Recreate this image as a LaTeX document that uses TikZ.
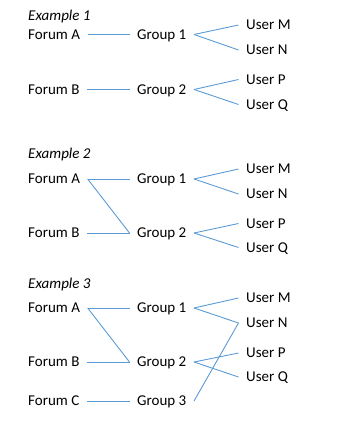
\documentclass[tikz,border=0pt]{standalone}
\usepackage{fontspec}
\setmainfont{Carlito}
\usepackage{tikz}
\definecolor{linkblue}{RGB}{91,155,213}

\begin{document}
\begin{tikzpicture}[
        x=1pt, y=-1pt,
        lbl/.style={anchor=west, inner xsep=7.5pt, inner ysep=0pt, text height=9.4pt, text depth=0pt, font=\fontsize{15}{18}\selectfont},
        hdr/.style={lbl, font=\fontsize{15}{18}\selectfont\itshape},
        link/.style={draw=linkblue, line width=0.9pt}
        ]
        \useasboundingbox (0,0) rectangle (341,435);
        % Example 1
        \node[hdr]  (ex_1)  at (20.5,15.5)  {Example 1};
        \node[lbl]  (fA_1)  at (20.5,34.5)  {Forum A};
        \node[lbl]  (fB_1)  at (20.5,89.5)  {Forum B};
        \node[lbl]  (g1_1)  at (129.5,34.5) {Group 1};
        \node[lbl]  (g2_1)  at (129.5,89.5) {Group 2};
        \node[lbl]  (uM_1)  at (238.5,25)   {User M};
        \node[lbl]  (uN_1)  at (238.5,50)   {User N};
        \node[lbl]  (uP_1)  at (238.5,79.5) {User P};
        \node[lbl]  (uQ_1)  at (238.5,104.5) {User Q};
        \path[link]
        (fA_1.east)   edge    (g1_1.west)
        (fB_1.east)   edge    (g2_1.west)
        (g1_1.east)   edge    (uM_1.west)
                      edge    (uN_1.west)
        (g2_1.east)   edge    (uP_1.west)
                      edge    (uQ_1.west);
        % Example 2
        \node[hdr]  (ex_2)  at (20.5,154)   {Example 2};
        \node[lbl]  (fA_2)  at (20.5,179)   {Forum A};
        \node[lbl]  (fB_2)  at (20.5,233)   {Forum B};
        \node[lbl]  (g1_2)  at (129.5,179)  {Group 1};
        \node[lbl]  (g2_2)  at (129.5,233)  {Group 2};
        \node[lbl]  (uM_2)  at (238.5,169)  {User M};
        \node[lbl]  (uN_2)  at (238.5,194)  {User N};
        \node[lbl]  (uP_2)  at (238.5,223.5) {User P};
        \node[lbl]  (uQ_2)  at (238.5,247.5) {User Q};
        \path[link]
        (fA_2.east)   edge    (g1_2.west)
                      edge    (g2_2.west)
        (fB_2.east)   edge    (g2_2.west)
        (g1_2.east)   edge    (uM_2.west)
                      edge    (uN_2.west)
        (g2_2.east)   edge    (uP_2.west)
                      edge    (uQ_2.west);
        % Example 3
        \node[hdr]  (ex_3)  at (20.5,284)   {Example 3};
        \node[lbl]  (fA_3)  at (20.5,308)   {Forum A};
        \node[lbl]  (fB_3)  at (20.5,362)   {Forum B};
        \node[lbl]  (fC_3)  at (20.5,401)   {Forum C};
        \node[lbl]  (g1_3)  at (129.5,308)  {Group 1};
        \node[lbl]  (g2_3)  at (129.5,362)  {Group 2};
        \node[lbl]  (g3_3)  at (129.5,401)  {Group 3};
        \node[lbl]  (uM_3)  at (238.5,298)  {User M};
        \node[lbl]  (uN_3)  at (238.5,323)  {User N};
        \node[lbl]  (uP_3)  at (238.5,353)  {User P};
        \node[lbl]  (uQ_3)  at (238.5,377)  {User Q};
        \path[link]
        (fA_3.east)   edge    (g1_3.west)
                      edge    (g2_3.west)
        (fB_3.east)   edge    (g2_3.west)
        (fC_3.east)   edge    (g3_3.west)
        (g1_3.east)   edge    (uM_3.west)
                      edge    (uN_3.west)
        (g2_3.east)   edge    (uP_3.west)
                      edge    (uQ_3.west)
        (g3_3.east)   edge    (uN_3.west);
    \end{tikzpicture}
\end{document}
